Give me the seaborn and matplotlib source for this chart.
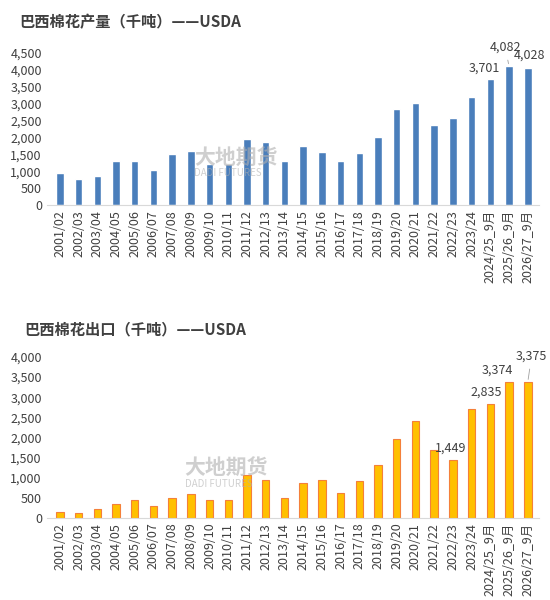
import matplotlib
matplotlib.use("Agg")
import matplotlib.pyplot as plt
import seaborn as sns
import pandas as pd

years = ["2001/02", "2002/03", "2003/04", "2004/05", "2005/06", "2006/07", "2007/08",
         "2008/09", "2009/10", "2010/11", "2011/12", "2012/13", "2013/14", "2014/15",
         "2015/16", "2016/17", "2017/18", "2018/19", "2019/20", "2020/21", "2021/22",
         "2022/23", "2023/24", "2024/25_9月", "2025/26_9月", "2026/27_9月"]
production = [940, 780, 850, 1310, 1310, 1040, 1520, 1600, 1210, 1200, 1960, 1870, 1310,
              1730, 1550, 1290, 1540, 2000, 2840, 3000, 2350, 2550, 3170, 3701, 4082, 4028]
exports = [150, 120, 210, 340, 440, 290, 490, 600, 440, 440, 1070, 950, 490, 860, 950,
           620, 920, 1320, 1960, 2400, 1690, 1449, 2700, 2835, 3374, 3375]

sns.set_style("white")
plt.rcParams['font.family'] = ['Noto Sans CJK SC', 'DejaVu Sans']

fig = plt.figure(figsize=(5.5, 6), dpi=100)
ax1 = fig.add_axes([0.085, 0.658, 0.895, 0.255])
ax2 = fig.add_axes([0.085, 0.137, 0.895, 0.268])

df = pd.DataFrame({"year": years, "prod": production, "exp": exports})

sns.barplot(data=df, x="year", y="prod", ax=ax1, color="#4a7ebb", width=0.4, saturation=1)
sns.barplot(data=df, x="year", y="exp", ax=ax2, color="#ffc000", width=0.4, saturation=1,
            edgecolor="#f4803a", linewidth=0.8)

for ax, top, step, wx in [(ax1, 4500, 500, 0.3), (ax2, 4000, 500, 0.28)]:
    ax.set_ylim(0, top)
    ax.set_yticks(range(0, top + 1, step))
    ax.set_yticklabels([f"{v:,}" for v in range(0, top + 1, step)], fontsize=9, color="#404040")
    ax.set_xlabel("")
    ax.set_ylabel("")
    ax.tick_params(axis="x", rotation=90, labelsize=9, colors="#404040", length=0)
    ax.tick_params(axis="y", length=0)
    for s in ["top", "right", "left"]:
        ax.spines[s].set_visible(False)
    ax.spines["bottom"].set_color("#d9d9d9")
    ax.set_xlim(-0.7, len(years) - 0.4)
    ax.text(wx, 0.27, "大地期货", transform=ax.transAxes, fontsize=15, color="#b0b0b0",
            alpha=0.6, ha="left", fontweight="bold")
    ax.text(wx, 0.19, "DADI FUTURES", transform=ax.transAxes, fontsize=7, color="#b0b0b0",
            alpha=0.6, ha="left")

fig.text(0.035, 0.955, "巴西棉花产量（千吨）——USDA", fontsize=11, fontweight="bold", color="#404040")
fig.text(0.045, 0.442, "巴西棉花出口（千吨）——USDA", fontsize=11, fontweight="bold", color="#404040")

lab = dict(fontsize=9, color="#404040", ha="center")
ax1.annotate(f"{production[23]:,}", (23, production[23]), xytext=(23 - 0.3, production[23] + 220), **lab)
ax1.annotate(f"{production[24]:,}", (24, production[24]), xytext=(24 - 0.2, production[24] + 450),
             arrowprops=dict(arrowstyle="-", color="#a0a0a0", lw=0.6), **lab)
ax1.annotate(f"{production[25]:,}", (25, production[25]), xytext=(25 + 0.1, production[25] + 280), **lab)

ax2.annotate(f"{exports[21]:,}", (21, exports[21]), xytext=(21 - 0.1, exports[21] + 200), **lab)
ax2.annotate(f"{exports[23]:,}", (23, exports[23]), xytext=(23 - 0.2, exports[23] + 200), **lab)
ax2.annotate(f"{exports[24]:,}", (24, exports[24]), xytext=(24 - 0.6, exports[24] + 200), **lab)
ax2.annotate(f"{exports[25]:,}", (25, exports[25]), xytext=(25 + 0.2, exports[25] + 550),
             arrowprops=dict(arrowstyle="-", color="#a0a0a0", lw=0.6), **lab)

fig.savefig("out.png", dpi=100)
